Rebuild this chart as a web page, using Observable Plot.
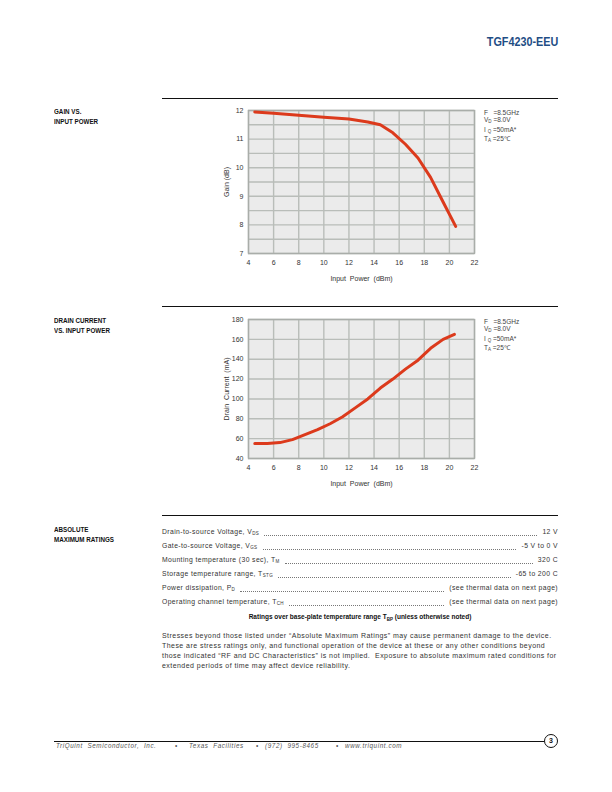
<!DOCTYPE html>
<html>
<head>
<meta charset="utf-8">
<script src="https://cdn.jsdelivr.net/npm/d3@7"></script>
<script src="https://cdn.jsdelivr.net/npm/@observablehq/plot@0.6"></script>
<style>
  html, body { margin: 0; padding: 0; background: #fff; }
  #page { position: relative; width: 612px; height: 792px; overflow: hidden; font-family: "Liberation Sans", Arial, sans-serif; color: #333; }
  .abs { position: absolute; }
  .rule { position: absolute; height: 0; border-top: 1px solid #111; }
  .sec { position: absolute; left: 54px; font-family: "Liberation Sans", Arial, sans-serif; font-weight: bold; font-size: 6.8px; line-height: 10px; color: #111; transform: scaleX(0.92); transform-origin: left; }
  .note { position: absolute; left: 484px; font-size: 6.5px; line-height: 7.4px; color: #444; white-space: nowrap; }
  .note sub, .row sub { font-size: 4.5px; vertical-align: -1px; }
  .row { position: absolute; left: 162px; width: 396px; display: flex; font-size: 6.8px; line-height: 9px; color: #333; white-space: nowrap; letter-spacing: 0.4px; }
  .row .dots { flex: 1; margin: 0 5px 2px 5px; border-bottom: 1px dotted #777; }
  .para { position: absolute; left: 162px; font-size: 7px; line-height: 10px; color: #333; white-space: nowrap; letter-spacing: 0.45px; }
  .chart { position: absolute; left: 200px; }
  .foot { position: absolute; top: 742px; font-size: 6.3px; font-style: italic; color: #555; white-space: nowrap; letter-spacing: 0.6px; }
</style>
</head>
<body>
<div id="page">
  <div class="abs" style="right:54px; top:34px; font-family:'Liberation Sans',Arial,sans-serif; font-weight:bold; font-size:13.5px; color:#1f4e85; transform:scaleX(0.8); transform-origin:right;">TGF4230-EEU</div>

  <div class="rule" style="left:162px; width:396px; top:98px;"></div>
  <div class="sec" style="top:107px;">GAIN VS.<br>INPUT POWER</div>
  <div id="chart1" class="chart" style="top:100px;"></div>
  <div class="note" style="top:109px;">F&nbsp;&nbsp; =8.5GHz<br>V<sub>D</sub> =8.0V<br>I <sub>Q</sub> =50mA*<br>T<sub>A</sub> =25&#8451;</div>

  <div class="rule" style="left:162px; width:396px; top:306px;"></div>
  <div class="sec" style="top:316px;">DRAIN CURRENT<br>VS. INPUT POWER</div>
  <div id="chart2" class="chart" style="top:309px;"></div>
  <div class="note" style="top:318px;">F&nbsp;&nbsp; =8.5GHz<br>V<sub>D</sub> =8.0V<br>I <sub>Q</sub> =50mA*<br>T<sub>A</sub> =25&#8451;</div>

  <div class="rule" style="left:162px; width:396px; top:515px;"></div>
  <div class="sec" style="top:525px;">ABSOLUTE<br>MAXIMUM RATINGS</div>
  <div id="ratings"></div>
  <div class="abs" style="left:162px; width:396px; top:613px; text-align:center; font-family:'Liberation Sans',Arial,sans-serif; font-weight:bold; font-size:6.5px; color:#111;">Ratings over base-plate temperature range T<sub style="font-size:4.5px;">BP</sub> (unless otherwise noted)</div>

  <div class="para" style="top:631px;">Stresses beyond those listed under “Absolute Maximum Ratings” may cause permanent damage to the device.<br>These are stress ratings only, and functional operation of the device at these or any other conditions beyond<br>those indicated “RF and DC Characteristics” is not implied.&nbsp; Exposure to absolute maximum rated conditions for<br>extended periods of time may affect device reliability.</div>

  <div class="rule" style="left:54px; width:490px; top:741px;"></div>
  <div class="abs" style="left:544px; top:734px; width:12px; height:12px; border:1.2px solid #111; border-radius:50%; font-size:7px; font-weight:bold; text-align:center; line-height:12px; color:#111;">3</div>
  <div class="foot" style="left:56px;">TriQuint&nbsp; Semiconductor,&nbsp; Inc.</div>
  <div class="foot" style="left:175px;">•</div>
  <div class="foot" style="left:189px;">Texas&nbsp; Facilities</div>
  <div class="foot" style="left:256px;">•</div>
  <div class="foot" style="left:265px;">(972)&nbsp; 995-8465</div>
  <div class="foot" style="left:336px;">•</div>
  <div class="foot" style="left:345px;">www.triquint.com</div>
</div>

<script>
// ---- Data ----
const inputPowerTicks = [4, 6, 8, 10, 12, 14, 16, 18, 20, 22];
const gainTicks = [7, 8, 9, 10, 11, 12];
const currentTicks = [40, 60, 80, 100, 120, 140, 160, 180];

const gainInput = [4.5, 6, 8, 10, 12, 13.5, 14.5, 15.5, 16.5, 17.5, 18.5, 19.5, 20.5];
const gainValue = [11.95, 11.9, 11.83, 11.76, 11.7, 11.6, 11.5, 11.22, 10.82, 10.34, 9.66, 8.8, 7.95];

const currentInput = [4.5, 5.5, 6.5, 7.5, 8.5, 9.5, 10.5, 11.5, 12.5, 13.5, 14.5, 15.5, 16.5, 17.5, 18.5, 19.5, 20.4];
const currentValue = [55, 55, 56, 59, 64, 69, 75, 82, 91, 100, 111, 120, 130, 139, 151, 160, 165];

const ratingLabels = ["Drain-to-source Voltage, V<sub>DS</sub>", "Gate-to-source Voltage, V<sub>GS</sub>", "Mounting temperature (30 sec), T<sub>M</sub>", "Storage temperature range, T<sub>STG</sub>", "Power dissipation, P<sub>D</sub>", "Operating channel temperature, T<sub>CH</sub>"];
const ratingValues = ["12 V", "-5 V to 0 V", "320 C", "-65 to 200 C", "(see thermal data on next page)", "(see thermal data on next page)"];

// ---- Ratings rows ----
const ratingsDiv = document.getElementById("ratings");
ratingLabels.forEach((lab, i) => {
  const r = document.createElement("div");
  r.className = "row";
  r.style.top = (527 + i * 14) + "px";
  r.innerHTML = `<span>${lab}</span><span class="dots"></span><span>${ratingValues[i]}</span>`;
  ratingsDiv.appendChild(r);
});

// ---- Charts ----
const bg = "#ebebeb", gridC = "#b9bdb9", lineC = "#dc3a1c";
function chart(xs, ys, yDomain, yTicks, yGrid, yLabel, height, mb) {
  const data = xs.map((x, i) => ({x, y: ys[i]}));
  return Plot.plot({
    width: 300, height,
    marginLeft: 48, marginRight: 26, marginTop: 10, marginBottom: mb,
    style: {fontFamily: "Liberation Sans, Arial, sans-serif", fontSize: "7px", color: "#333", background: "transparent"},
    x: {domain: [4, 22]},
    y: {domain: yDomain},
    marks: [
      Plot.frame({fill: bg, stroke: null}),
      Plot.gridX(inputPowerTicks, {stroke: gridC, strokeOpacity: 1, strokeWidth: 1.4}),
      Plot.gridY(yGrid, {stroke: gridC, strokeOpacity: 1, strokeWidth: 1.4}),
      Plot.frame({stroke: "#a9ada9", strokeWidth: 1.4}),
      Plot.axisX(inputPowerTicks, {tickSize: 0, tickPadding: 7, fill: "#333", label: "Input  Power  (dBm)", labelAnchor: "center", labelArrow: "none", labelOffset: 27}),
      Plot.axisY(yTicks, {tickSize: 0, tickPadding: 5, fill: "#333", label: yLabel, labelAnchor: "center", labelArrow: "none", labelOffset: 24}),
      Plot.line(data, {x: "x", y: "y", stroke: lineC, strokeWidth: 3, strokeLinecap: "round", strokeLinejoin: "round"})
    ]
  });
}
const gainGrid = d3.range(7, 12.01, 0.5);
document.getElementById("chart1").appendChild(chart(gainInput, gainValue, [7, 12], gainTicks, gainGrid, "Gain (dB)", 190, 37));
document.getElementById("chart2").appendChild(chart(currentInput, currentValue, [40, 180], currentTicks, currentTicks, "Drain  Current  (mA)", 190, 41));
</script>
</body>
</html>
